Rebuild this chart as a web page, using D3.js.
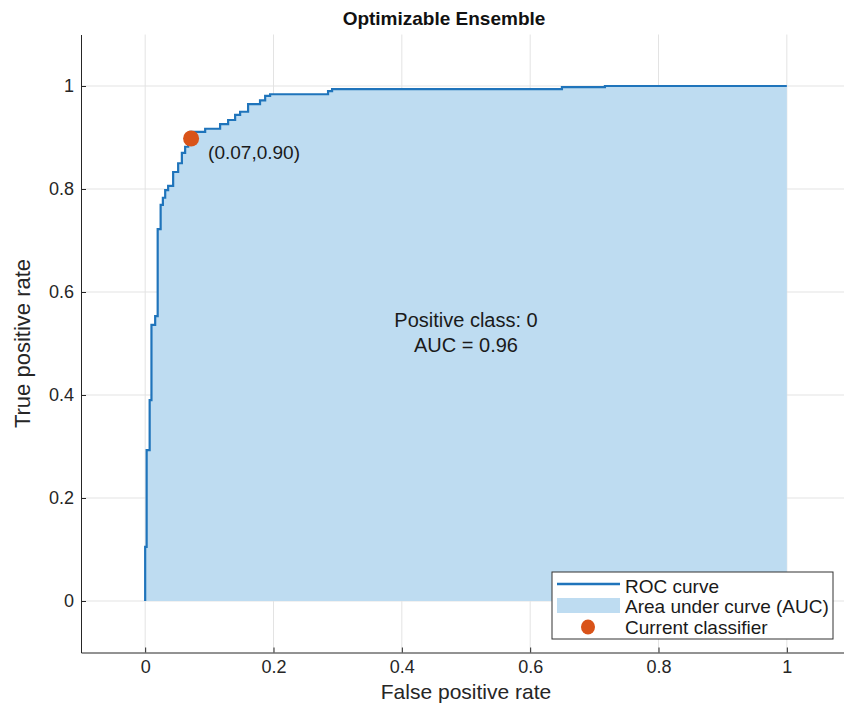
<!DOCTYPE html>
<html>
<head>
<meta charset="utf-8">
<script src="https://cdn.jsdelivr.net/npm/d3@7"></script>
<style>
  body { margin: 0; background: #fff; }
  #svg-container1 { width: 844px; height: 706px; }
  text { font-family: "Liberation Sans", Arial, Helvetica, sans-serif; }
</style>
</head>
<body>
<div id="svg-container1"></div>
<script>
// ROC curve vertices (top of each vertical run)
const fpr = [0, 0, 0.0023, 0.007, 0.0098, 0.0156, 0.0195, 0.0241, 0.0276, 0.0312, 0.0358,
    0.0436, 0.0514, 0.0572, 0.0623, 0.067, 0.0701, 0.0935, 0.1168, 0.1293, 0.1402,
    0.148, 0.1604, 0.179, 0.187, 0.1947, 0.285, 0.2913, 0.6495, 0.7165, 1];
const tpr = [0, 0.105, 0.293, 0.390, 0.536, 0.553, 0.722, 0.769, 0.783, 0.798, 0.806,
    0.833, 0.850, 0.870, 0.882, 0.899, 0.911, 0.917, 0.926, 0.934, 0.944,
    0.950, 0.965, 0.972, 0.981, 0.984, 0.990, 0.994, 0.998, 1.0, 1.0];

const currentClassifier = [0.07, 0.90];
const xTicks = [0, 0.2, 0.4, 0.6, 0.8, 1];
const yTicks = [0, 0.2, 0.4, 0.6, 0.8, 1];
const legendLabels = ["ROC curve", "Area under curve (AUC)", "Current classifier"];
const aucText = ["Positive class: 0", "AUC = 0.96"];

const data = fpr.map((f, i) => ({ fpr: f, tpr: tpr[i] }));

const width = 844;
const height = 706;
const marginTop = 34.5;
const marginBottom = 53.5;
const marginLeft = 81;
const plotRight = 851; // axes run a little past the picture edge

const x = d3.scaleLinear().domain([-0.1, 1.1]).range([marginLeft, plotRight]);
const y = d3.scaleLinear().domain([-0.1, 1.1]).range([height - marginBottom, marginTop]);

const svg = d3.select("#svg-container1")
    .append("svg")
    .attr("width", width)
    .attr("height", height)
    .attr("viewBox", `0 0 ${width} ${height}`);

svg.append("rect").attr("width", width).attr("height", height).attr("fill", "#fff");

// grid
svg.append("g")
    .selectAll("line")
    .data(xTicks)
    .enter()
    .append("line")
    .attr("x1", d => x(d)).attr("x2", d => x(d))
    .attr("y1", marginTop).attr("y2", height - marginBottom)
    .attr("stroke", "#e3e3e3");

svg.append("g")
    .selectAll("line")
    .data(yTicks)
    .enter()
    .append("line")
    .attr("x1", marginLeft).attr("x2", plotRight)
    .attr("y1", d => y(d)).attr("y2", d => y(d))
    .attr("stroke", "#e3e3e3");

// area under curve
const area = d3.area()
    .curve(d3.curveStepAfter)
    .x(d => x(d.fpr))
    .y0(y(0))
    .y1(d => y(d.tpr));

svg.append("path")
    .datum(data)
    .attr("fill", "#bedcf1")
    .attr("d", area);

// ROC line
const line = d3.line()
    .curve(d3.curveStepAfter)
    .x(d => x(d.fpr))
    .y(d => y(d.tpr));

svg.append("path")
    .datum(data)
    .attr("fill", "none")
    .attr("stroke", "#1f74bb")
    .attr("stroke-width", 2.2)
    .attr("d", line);

// axes
svg.append("g")
    .attr("transform", `translate(0,${height - marginBottom})`)
    .call(d3.axisBottom(x).tickValues(xTicks).tickFormat(d3.format("~g")).tickSizeInner(-5).tickSizeOuter(0).tickPadding(8))
    .call(g => g.select(".domain").attr("stroke", "#262626"))
    .call(g => g.selectAll(".tick line").attr("stroke", "#262626"))
    .selectAll(".tick text")
    .attr("fill", "#262626")
    .style("font-size", "18px");

svg.append("g")
    .attr("transform", `translate(${marginLeft},0)`)
    .call(d3.axisLeft(y).tickValues(yTicks).tickFormat(d3.format("~g")).tickSizeInner(-5).tickSizeOuter(0).tickPadding(7))
    .call(g => g.select(".domain").attr("stroke", "#262626"))
    .call(g => g.selectAll(".tick line").attr("stroke", "#262626"))
    .selectAll(".tick text")
    .attr("fill", "#262626")
    .style("font-size", "18px");

// current classifier
svg.append("ellipse")
    .attr("cx", x(currentClassifier[0]) + 1)
    .attr("cy", y(currentClassifier[1]) + 1)
    .attr("rx", 8).attr("ry", 8)
    .attr("fill", "#d95319");

svg.append("text")
    .attr("x", x(currentClassifier[0]) + 18)
    .attr("y", y(currentClassifier[1]) + 21)
    .style("font-size", "19px")
    .attr("fill", "#1a1a1a")
    .text(`(${currentClassifier[0].toFixed(2)},${currentClassifier[1].toFixed(2)})`);

// AUC annotation
svg.append("g")
    .selectAll("text")
    .data(aucText)
    .enter()
    .append("text")
    .attr("x", x(0.5))
    .attr("y", (d, i) => 327 + i * 25)
    .attr("text-anchor", "middle")
    .style("font-size", "20px")
    .attr("fill", "#1a1a1a")
    .text(d => d);

// title and labels
svg.append("text")
    .attr("x", 444)
    .attr("y", 25)
    .attr("text-anchor", "middle")
    .style("font-size", "19px")
    .style("font-weight", "bold")
    .attr("fill", "#111")
    .text("Optimizable Ensemble");

svg.append("text")
    .attr("x", x(0.5))
    .attr("y", 699)
    .attr("text-anchor", "middle")
    .style("font-size", "21px")
    .attr("fill", "#262626")
    .text("False positive rate");

svg.append("text")
    .attr("transform", `translate(30,${(marginTop + height - marginBottom) / 2}) rotate(-90)`)
    .attr("text-anchor", "middle")
    .style("font-size", "22px")
    .attr("fill", "#262626")
    .text("True positive rate");

// legend
const legend = svg.append("g").attr("transform", "translate(552,572)");
legend.append("rect")
    .attr("width", 281).attr("height", 67)
    .attr("fill", "#fff")
    .attr("stroke", "#333");

legend.append("line")
    .attr("x1", 5).attr("x2", 68).attr("y1", 12).attr("y2", 12)
    .attr("stroke", "#1f74bb").attr("stroke-width", 2.5);
legend.append("rect")
    .attr("x", 5).attr("y", 26).attr("width", 63).attr("height", 15)
    .attr("fill", "#bedcf1");
legend.append("ellipse")
    .attr("cx", 36).attr("cy", 55).attr("rx", 7).attr("ry", 7.5)
    .attr("fill", "#d95319");

legend.selectAll(".legend-label")
    .data(legendLabels)
    .enter()
    .append("text")
    .attr("class", "legend-label")
    .attr("x", 73)
    .attr("y", (d, i) => 14 + i * 20.5)
    .attr("dy", "0.35em")
    .style("font-size", "19px")
    .attr("fill", "#1a1a1a")
    .text(d => d);
</script>
</body>
</html>
